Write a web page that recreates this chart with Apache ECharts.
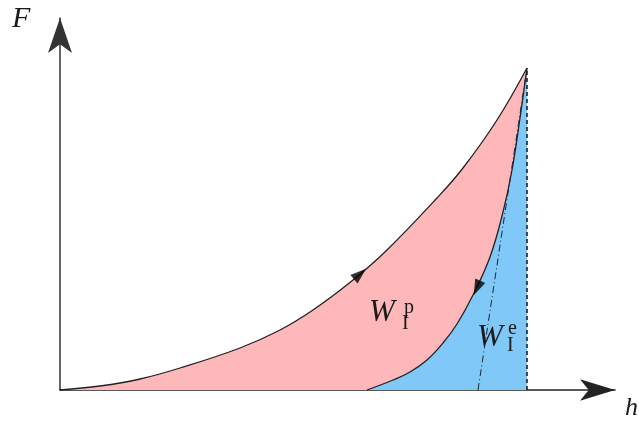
<!DOCTYPE html>
<html>
<head>
<meta charset="utf-8">
<script src="https://cdn.jsdelivr.net/npm/echarts@6/dist/echarts.min.js"></script>
<style>
  html, body { margin: 0; padding: 0; background: #fff; }
  #chart { width: 639px; height: 425px; }
</style>
</head>
<body>
<div id="chart"></div>
<script>
  // loading curve (h, F)
  var loadH = [0, 40, 80, 120, 180, 220, 253, 293, 327, 377, 403, 437, 467];
  var loadF = [0, 4, 11, 22, 42, 60, 80, 110, 140, 192, 222, 270, 322];
  // unloading curve
  var unloadH = [307, 333, 350, 367, 383, 397, 413, 430, 443, 452, 460, 467];
  var unloadF = [0, 10, 18, 30, 47, 66, 95, 133, 178, 220, 272, 322];
  // vertical line at max depth, tangent (dash-dot) line
  var maxLineH = [467, 467];
  var maxLineF = [0, 322];
  var tangentH = [418, 467];
  var tangentF = [0, 322];
  // direction arrows on the curves
  var arrowPts = [[300, 116], [417, 102]];
  var arrowRot = [-49, 156];

  function pairs(xs, ys) {
    return xs.map(function (x, i) { return [x, ys[i]]; });
  }

  var myChart = echarts.init(document.getElementById('chart'));
  var serif = '"Liberation Serif", "DejaVu Serif", serif';

  function label(x, y, text, font) {
    return { type: 'text', x: x, y: y, z: 100, style: { text: text, font: font, fill: '#1a1a1a', textVerticalAlign: 'top' } };
  }

  myChart.setOption({
    animation: false,
    grid: { left: 60, right: 24, top: 18, bottom: 35 },
    xAxis: {
      type: 'value', min: 0, max: 555,
      axisLine: { lineStyle: { color: '#222', width: 1.5 }, symbol: ['none', 'arrow'], symbolSize: [16, 35] },
      axisTick: { show: false }, axisLabel: { show: false }, splitLine: { show: false }
    },
    yAxis: {
      type: 'value', min: 0, max: 372,
      axisLine: { show: true, lineStyle: { color: '#333', width: 1.5 }, symbol: ['none', 'arrow'], symbolSize: [18, 35] },
      axisTick: { show: false }, axisLabel: { show: false }, splitLine: { show: false }
    },
    series: [
      {
        type: 'line', data: pairs(loadH, loadF), smooth: 0.4,
        showSymbol: false, z: 2,
        lineStyle: { color: '#222', width: 1.3 },
        areaStyle: { color: '#ffb8ba', opacity: 1 }
      },
      {
        type: 'line', data: pairs(unloadH, unloadF), smooth: 0.4,
        showSymbol: false, z: 3,
        lineStyle: { color: '#222', width: 1.3 },
        areaStyle: { color: '#80c8f8', opacity: 1 }
      },
      {
        type: 'line', data: pairs(maxLineH, maxLineF), showSymbol: false, z: 4,
        lineStyle: { color: '#111', width: 1.5, type: [4, 3] }
      },
      {
        type: 'line', data: pairs(tangentH, tangentF), showSymbol: false, z: 4,
        lineStyle: { color: '#223', width: 1, type: [7, 3, 1, 3] }
      },
      {
        type: 'scatter', z: 5,
        data: arrowPts.map(function (p, i) {
          return { value: p, symbolRotate: arrowRot[i] };
        }),
        symbol: 'triangle', symbolSize: [11, 16],
        itemStyle: { color: '#000' }
      }
    ],
    graphic: [
      label(12, 4, 'F', 'italic 30px ' + serif),
      label(625, 395, 'h', 'italic 26px ' + serif),
      label(369, 297, 'W', 'italic 31px ' + serif),
      label(404, 298, 'p', '20px ' + serif),
      label(402, 314, 'I', '20px ' + serif),
      label(477, 322, 'W', 'italic 31px ' + serif),
      label(508, 319, 'e', '20px ' + serif),
      label(507, 336, 'I', '20px ' + serif)
    ]
  });
</script>
</body>
</html>
